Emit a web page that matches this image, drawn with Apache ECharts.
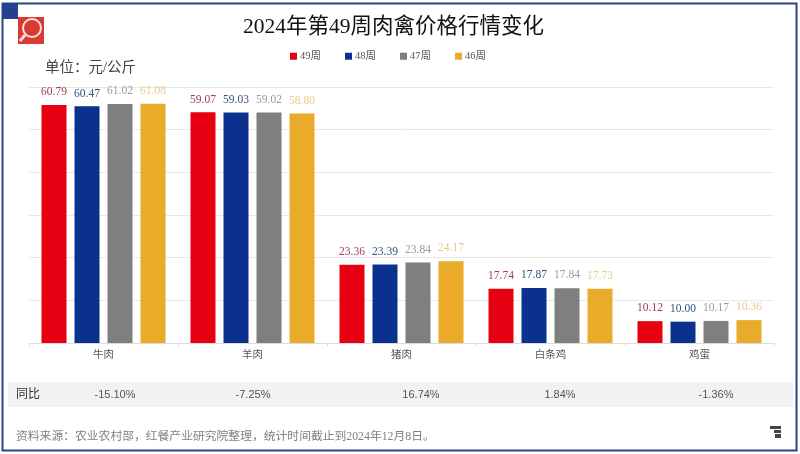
<!DOCTYPE html>
<html>
<head>
<meta charset="utf-8">
<style>
  html, body { margin: 0; padding: 0; background: #fff; }
  #chart { width: 800px; height: 454px; }
</style>
<script src="https://cdn.jsdelivr.net/npm/echarts@6/dist/echarts.min.js"></script>
</head>
<body>
<div id="chart"></div>
<script>
// Data
const categories = ['牛肉', '羊肉', '猪肉', '白条鸡', '鸡蛋']
const weekNames = ['49周', '48周', '47周', '46周']
const week49 = [60.79, 59.07, 23.36, 17.74, 10.12]
const week48 = [60.47, 59.03, 23.39, 17.87, 10.00]
const week47 = [61.02, 59.02, 23.84, 17.84, 10.17]
const week46 = [61.08, 58.80, 24.17, 17.73, 10.36]
const yoyLabels = ['-15.10%', '-7.25%', '16.74%', '1.84%', '-1.36%']

// Styles
const barColors = ['#E60012', '#0B318F', '#7F7F7F', '#EAAA2A']
const labelColors = ['#A83A52', '#34507F', '#9A9A9A', '#E6CB8C']
const yoyCenters = [115, 253, 421, 560, 716]
const serif = '"Liberation Serif", "Noto Sans CJK SC", serif'
const sans = '"Liberation Sans", "Noto Sans CJK SC", sans-serif'

const seriesValues = [week49, week48, week47, week46]

const chart = echarts.init(document.getElementById('chart'), null, {renderer: 'canvas'})

const yoyTexts = yoyLabels.map((label, i) => ({
    type: 'text',
    x: yoyCenters[i],
    y: 395,
    style: {text: label, font: '11px ' + sans, fill: '#555', align: 'center', verticalAlign: 'middle'},
}))

chart.setOption({
    animation: false,
    backgroundColor: '#fff',
    title: {
        text: '2024年第49周肉禽价格行情变化',
        left: 238,
        top: 12,
        textStyle: {fontFamily: serif, fontSize: 21.5, fontWeight: 'normal', color: '#111'},
    },
    legend: {
        data: weekNames,
        top: 46,
        left: 285,
        icon: 'rect',
        itemWidth: 7,
        itemHeight: 7,
        itemGap: 24,
        textStyle: {fontFamily: serif, fontSize: 10.5, color: '#555', padding: [0, 0, 0, -2]},
    },
    grid: {left: 29, right: 26, top: 87, bottom: 111},
    xAxis: {
        type: 'category',
        data: categories,
        axisLine: {lineStyle: {color: '#dcdcdc'}},
        axisTick: {show: true, length: 3, lineStyle: {color: '#dcdcdc'}},
        axisLabel: {fontFamily: serif, fontSize: 10.5, color: '#555', margin: 7},
    },
    yAxis: {
        type: 'value',
        min: 5,
        max: 65,
        interval: 10,
        axisLine: {show: false},
        axisTick: {show: false},
        axisLabel: {show: false},
        splitLine: {lineStyle: {color: '#e8e8e8'}},
    },
    series: seriesValues.map((values, i) => ({
        name: weekNames[i],
        type: 'bar',
        data: values,
        barWidth: 25,
        barGap: '32%',
        itemStyle: {color: barColors[i]},
        label: {
            show: true,
            position: 'top',
            distance: 7,
            formatter: p => p.value.toFixed(2),
            fontFamily: serif,
            fontSize: 11.5,
            color: labelColors[i],
        },
    })),
    graphic: [
        // frame and corner block
        {type: 'rect', shape: {x: 2.5, y: 3.5, width: 794, height: 447}, style: {fill: 'none', stroke: '#2A4583', lineWidth: 2}},
        {type: 'rect', shape: {x: 2, y: 3, width: 16, height: 16}, style: {fill: '#24408F'}},
        // magnifier icon
        {type: 'rect', shape: {x: 18, y: 17, width: 26, height: 27}, style: {fill: '#D93A30'}},
        {type: 'circle', shape: {cx: 32, cy: 28, r: 9}, style: {fill: 'none', stroke: '#F6E3DA', lineWidth: 2}},
        {type: 'line', shape: {x1: 25, y1: 35, x2: 20, y2: 41}, style: {stroke: '#F6E3DA', lineWidth: 3}},
        // unit
        {type: 'text', x: 45, y: 68, style: {text: '单位：元/公斤', font: '14.5px ' + serif, fill: '#444', verticalAlign: 'middle'}},
        // yoy row
        {type: 'rect', shape: {x: 8, y: 382, width: 785, height: 25}, style: {fill: '#F2F2F2'}},
        {type: 'text', x: 16, y: 395, style: {text: '同比', font: '12px ' + sans, fill: '#333', verticalAlign: 'middle'}},
        ...yoyTexts,
        // source note
        {type: 'text', x: 16, y: 437, style: {text: '资料来源：农业农村部，红餐产业研究院整理，统计时间截止到2024年12月8日。', font: '11.8px ' + serif, fill: '#808080', verticalAlign: 'middle'}},
        // small logo bottom right
        {type: 'rect', shape: {x: 770, y: 426, width: 11, height: 3}, style: {fill: '#444'}},
        {type: 'rect', shape: {x: 774, y: 430, width: 7, height: 3}, style: {fill: '#444'}},
        {type: 'rect', shape: {x: 775, y: 434, width: 6, height: 4}, style: {fill: '#444'}},
    ],
})
</script>
</body>
</html>
